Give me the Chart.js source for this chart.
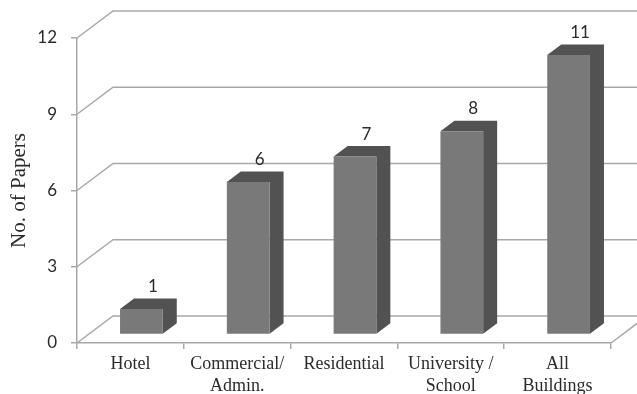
<!DOCTYPE html>
<html>
<head>
<meta charset="utf-8">
<title>No. of Papers</title>
<script src="https://cdn.jsdelivr.net/npm/chart.js@4/dist/chart.umd.min.js"></script>
<style>
    html, body { margin: 0; padding: 0; background: #fff; }
    canvas { display: block; }
</style>
</head>
<body>
<canvas id="papers-chart" width="637" height="394"></canvas>
<script>
const categories = [
    'Hotel',
    ['Commercial/', 'Admin.'],
    'Residential',
    ['University /', 'School'],
    ['All', 'Buildings']
];
const papers = [1, 6, 7, 8, 11];
const yMax = 12;
const yStep = 3;

const GRID = '#a8a8a8';
const FRONT = '#797979';
const SHADE = '#525252';
const INK = '#2b2b2b';

// how far the back wall sits behind the axes
const WALL = { x: 36, y: -27 };
// where the bars stand on the floor, and how deep they are
const STAND = { x: 11, y: -8.5 };
const DEPTH = { x: 14, y: -10.5 };

// back wall lines and the slanted lines joining them to the axis
const wallPlugin = {
    id: 'wall',
    beforeDatasetsDraw(chart) {
        const { ctx, chartArea, scales } = chart;
        ctx.save();
        ctx.strokeStyle = GRID;
        ctx.lineWidth = 1.5;
        scales.y.ticks.forEach(tick => {
            const y = scales.y.getPixelForValue(tick.value);
            ctx.beginPath();
            ctx.moveTo(chartArea.left, y);
            ctx.lineTo(chartArea.left + WALL.x, y + WALL.y);
            ctx.lineTo(chart.width, y + WALL.y);
            ctx.stroke();
        });
        // right edge of the floor
        const y0 = scales.y.getPixelForValue(0);
        ctx.beginPath();
        ctx.moveTo(chartArea.right, y0);
        ctx.lineTo(chartArea.right + WALL.x, y0 + WALL.y);
        ctx.stroke();
        ctx.restore();
    }
};

// side and top faces, front face pushed back onto the floor, value on top
const boxPlugin = {
    id: 'box',
    beforeDatasetDraw(chart, args) {
        const { ctx } = chart;
        ctx.save();
        ctx.translate(STAND.x, STAND.y);
        ctx.fillStyle = SHADE;
        args.meta.data.forEach(bar => {
            const p = bar.getProps(['x', 'y', 'base', 'width']);
            const l = p.x - p.width / 2;
            const r = p.x + p.width / 2;
            ctx.beginPath();
            ctx.moveTo(l, p.y);
            ctx.lineTo(l + DEPTH.x, p.y + DEPTH.y);
            ctx.lineTo(r + DEPTH.x, p.y + DEPTH.y);
            ctx.lineTo(r + DEPTH.x, p.base + DEPTH.y);
            ctx.lineTo(r, p.base);
            ctx.lineTo(r, p.y);
            ctx.closePath();
            ctx.fill();
        });
    },
    afterDatasetDraw(chart, args) {
        const { ctx } = chart;
        ctx.restore();
        ctx.save();
        ctx.fillStyle = INK;
        ctx.font = '17px Lato';
        ctx.textAlign = 'center';
        ctx.textBaseline = 'middle';
        args.meta.data.forEach((bar, i) => {
            const p = bar.getProps(['x', 'y']);
            ctx.fillText(papers[i], p.x + STAND.x + 11.5, p.y + STAND.y - 22.5);
        });
        ctx.restore();
    }
};

new Chart(document.getElementById('papers-chart'), {
    type: 'bar',
    data: {
        labels: categories,
        datasets: [{
            data: papers,
            backgroundColor: FRONT,
            borderWidth: 0,
            barPercentage: 0.4,
            categoryPercentage: 1
        }]
    },
    options: {
        responsive: false,
        animation: false,
        layout: { padding: { top: 38, right: 26, left: 0, bottom: 0 } },
        plugins: {
            legend: { display: false },
            tooltip: { enabled: false }
        },
        scales: {
            x: {
                afterFit(scale) { scale.height = 51; },
                border: { color: GRID, width: 1.5 },
                grid: { drawOnChartArea: false, color: GRID, tickLength: 6, lineWidth: 1.5 },
                ticks: {
                    color: INK,
                    padding: 4,
                    maxRotation: 0,
                    autoSkip: false,
                    font: { family: 'Liberation Serif', size: 18, lineHeight: 1.25 }
                }
            },
            y: {
                min: 0,
                max: yMax,
                afterFit(scale) { scale.width = 77; },
                border: { color: GRID, width: 1.5 },
                grid: { drawOnChartArea: false, color: GRID, tickLength: 6, lineWidth: 1.5 },
                title: {
                    display: true,
                    text: 'No. of Papers',
                    color: INK,
                    padding: { top: 7, bottom: 0 },
                    font: { family: 'Liberation Serif', size: 21, weight: 'normal' }
                },
                ticks: {
                    stepSize: yStep,
                    color: INK,
                    padding: 14,
                    font: { family: 'Lato', size: 17 }
                }
            }
        }
    },
    plugins: [wallPlugin, boxPlugin]
});
</script>
</body>
</html>
